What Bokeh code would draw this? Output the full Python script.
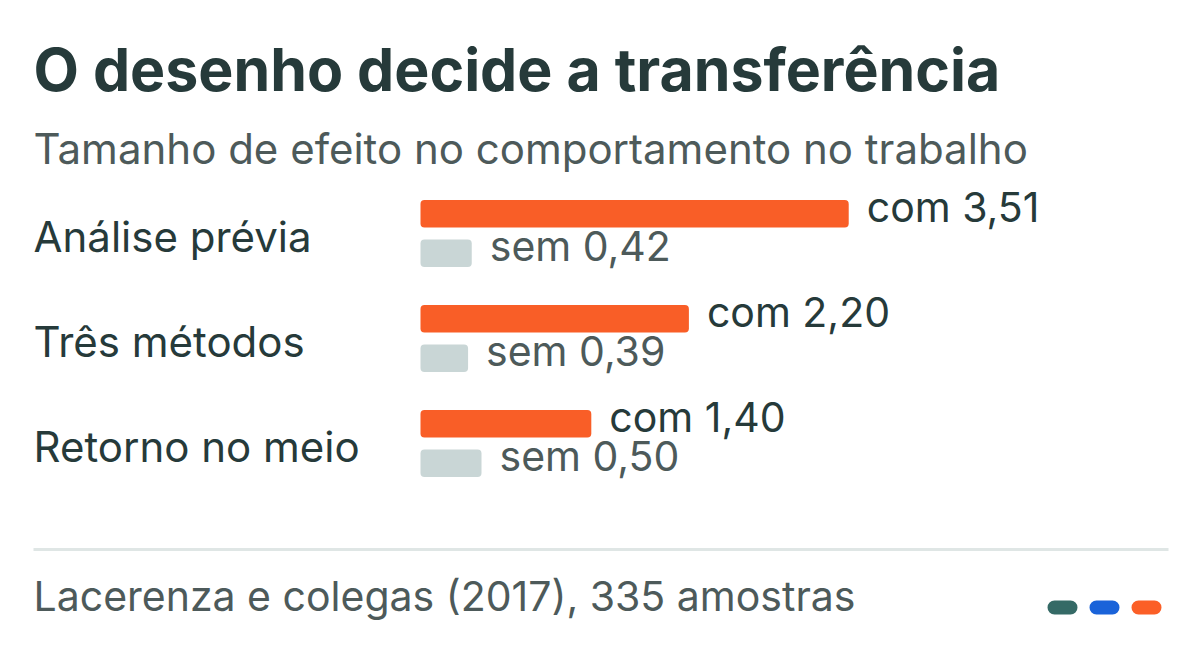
from bokeh.plotting import figure
from bokeh.models import Range1d
from bokeh.core.properties import value
from bokeh.embed import file_html
from bokeh.resources import INLINE

# ---- data ----
categories = ["Análise prévia", "Três métodos", "Retorno no meio"]
com_values = [3.51, 2.20, 1.40]
sem_values = [0.42, 0.39, 0.50]
com_labels = ["com 3,51", "com 2,20", "com 1,40"]
sem_labels = ["sem 0,42", "sem 0,39", "sem 0,50"]
pill_colors = ["#356a66", "#1a63d9", "#fb5f27"]

TITLE = "O desenho decide a transferência"
SUBTITLE = "Tamanho de efeito no comportamento no trabalho"
FOOTER = "Lacerenza e colegas (2017), 335 amostras"

# ---- layout ----
W, H = 1192, 652
M = 0                 # bokeh page template has no body margin
X0 = 420 - M          # canvas px of value 0
PX_PER_UNIT = 122
Y0 = 233 - M          # canvas px of first group centre
PX_PER_GROUP = 105
K = 0.4               # observed baseline shift (fraction of font size)

def px_x(px):
    return (px - M - X0) / PX_PER_UNIT

def px_y(py):
    return (py - M - Y0) / PX_PER_GROUP

def base_y(py, size):
    return px_y(py - K * size)

DARK = "#263a3a"
GREY_TXT = "#4d5a5a"
ORANGE = "#f95e27"
LIGHT = "#c9d6d6"
FONT = "Inter"

S_TITLE, S_SUB, S_CAT, S_VAL, S_FOOT = 59, 42, 42, 41, 41

p = figure(width=W, height=H, output_backend="svg", toolbar_location=None,
           x_range=Range1d(px_x(M), px_x(M + W)),
           y_range=Range1d(px_y(M + H), px_y(M)),
           min_border=0, outline_line_color=None,
           background_fill_color="white", border_fill_color="white")
p.axis.visible = False
p.grid.visible = False

idx = list(range(len(categories)))
off = 19.75 / PX_PER_GROUP
bh = 27.5 / PX_PER_GROUP

p.hbar(y=[i - off for i in idx], left=0, right=com_values, height=bh,
       fill_color=ORANGE, line_color=None, border_radius=4)
p.hbar(y=[i + off for i in idx], left=0, right=sem_values, height=bh,
       fill_color=LIGHT, line_color=None, border_radius=4)

lab_dy = (9.5 - K * S_VAL) / PX_PER_GROUP
p.text(x=com_values, y=[i - off + lab_dy for i in idx], text=com_labels,
       x_offset=18, text_baseline="alphabetic", text_align="left",
       text_font=value(FONT), text_font_size=f"{S_VAL}px", text_color=DARK)
p.text(x=sem_values, y=[i + off + lab_dy for i in idx], text=sem_labels,
       x_offset=18, text_baseline="alphabetic", text_align="left",
       text_font=value(FONT), text_font_size=f"{S_VAL}px", text_color=GREY_TXT)

cat_dy = (20 - K * S_CAT) / PX_PER_GROUP
p.text(x=[px_x(33)] * len(idx), y=[i + cat_dy for i in idx], text=categories,
       text_baseline="alphabetic", text_align="left",
       text_font=value(FONT), text_font_size=f"{S_CAT}px", text_color=DARK)

p.text(x=[px_x(33)], y=[base_y(93, S_TITLE)], text=[TITLE], text_baseline="alphabetic",
       text_font=value(FONT), text_font_style="bold", text_font_size=f"{S_TITLE}px",
       text_color=DARK)
p.text(x=[px_x(33)], y=[base_y(165, S_SUB)], text=[SUBTITLE], text_baseline="alphabetic",
       text_font=value(FONT), text_font_size=f"{S_SUB}px", text_color=GREY_TXT)

p.segment(x0=[px_x(33)], x1=[px_x(1168)], y0=[px_y(549)], y1=[px_y(549)],
          line_width=3, line_color="#dfe6e5")

p.text(x=[px_x(33)], y=[base_y(612, S_FOOT)], text=[FOOTER], text_baseline="alphabetic",
       text_font=value(FONT), text_font_size=f"{S_FOOT}px", text_color=GREY_TXT)

pill_left = [px_x(1047), px_x(1089), px_x(1131)]
pill_right = [px_x(1077), px_x(1119), px_x(1161)]
p.hbar(y=[px_y(607)] * 3, left=pill_left, right=pill_right, height=14 / PX_PER_GROUP,
       fill_color=pill_colors, line_color=None, border_radius=7)

open("out.html", "w").write(file_html(p, INLINE))
